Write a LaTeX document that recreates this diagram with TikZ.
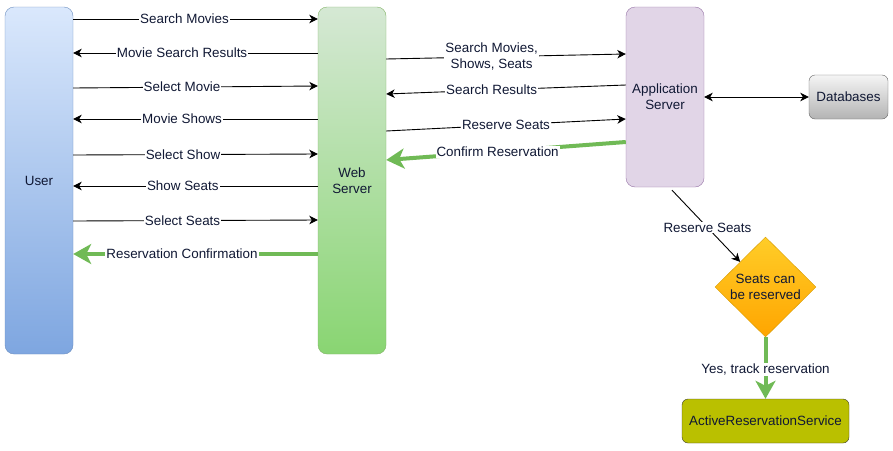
\documentclass[tikz,border=0pt]{standalone}
\usepackage{fontspec}
\setmainfont{Liberation Sans}
\usetikzlibrary{arrows.meta,shapes.geometric}

\definecolor{txt}{RGB}{16,24,52}
\definecolor{okgreen}{RGB}{112,186,86}
\definecolor{userTop}{HTML}{DAE8FC}
\definecolor{userBot}{HTML}{7EA6E0}
\definecolor{userLine}{HTML}{6C8EBF}
\definecolor{webTop}{HTML}{D5E8D4}
\definecolor{webBot}{HTML}{89D572}
\definecolor{webLine}{HTML}{82B366}
\definecolor{appFill}{HTML}{E1D5E7}
\definecolor{appLine}{HTML}{9673A6}
\definecolor{dbTop}{HTML}{F5F5F5}
\definecolor{dbBot}{HTML}{B3B3B3}
\definecolor{dbLine}{HTML}{666666}
\definecolor{decTop}{HTML}{FFCD28}
\definecolor{decBot}{HTML}{FFA500}
\definecolor{decLine}{HTML}{D79B00}
\definecolor{arsFill}{RGB}{186,192,0}
\definecolor{arsLine}{RGB}{60,60,45}

\begin{document}
\begin{tikzpicture}[x=1pt,y=-1pt,
  every node/.style={font=\fontsize{13.4}{15.8}\selectfont, text=txt},
  box/.style={draw, rounded corners=9pt, inner sep=0pt, align=center},
  lbl/.style={fill=white, inner sep=1pt, align=center},
  arr/.style={draw=black, line width=0.9pt, -{Stealth[length=8.5pt,width=8.5pt,inset=2.5pt]}},
  dbl/.style={draw=black, line width=0.9pt, {Stealth[length=8.5pt,width=8.5pt,inset=2.5pt]}-{Stealth[length=8.5pt,width=8.5pt,inset=2.5pt]}},
  garr/.style={draw=okgreen, line width=4pt, -{Stealth[length=18pt,width=20pt,inset=5pt]}},
]
\useasboundingbox (0,0) rectangle (893,450);

% components
\node[box, draw=userLine, top color=userTop, bottom color=userBot,
      minimum width=68pt, minimum height=347pt] (user) at (39,180.5) {User};
\node[box, draw=webLine, top color=webTop, bottom color=webBot,
      minimum width=68pt, minimum height=347pt] (web) at (352,180.5) {Web\\Server};
\node[box, draw=appLine, fill=appFill,
      minimum width=78pt, minimum height=180pt] (app) at (665,97) {Application\\Server};
\node[box, rounded corners=6pt, draw=dbLine, top color=dbTop, bottom color=dbBot,
      minimum width=79pt, minimum height=44pt] (db) at (848.5,97) {Databases};
\node[diamond, draw=decLine, top color=decTop, bottom color=decBot, inner sep=0pt,
      align=center, minimum width=101pt, minimum height=100pt] (dec) at (765.5,287)
      {Seats can\\be reserved};
\node[box, rounded corners=6pt, draw=arsLine, fill=arsFill,
      minimum width=167pt, minimum height=44pt] (ars) at (765.5,421) {ActiveReservationService};

% user <-> web server
\draw[arr] (user.east |- 0,19)  -- node[lbl, pos=0.455] {Search Movies} (web.west |- 0,19);
\draw[arr] (web.west |- 0,53)   -- node[lbl, pos=0.555] {Movie Search Results} (user.east |- 0,53);
\draw[arr] (user.east |- 0,88)  -- node[lbl, pos=0.445] {Select Movie} (web.west |- 0,86);
\draw[arr] (web.west |- 0,119)  -- node[lbl, pos=0.555] {Movie Shows} (user.east |- 0,119);
\draw[arr] (user.east |- 0,155) -- node[lbl, pos=0.449] {Select Show} (web.west |- 0,154);
\draw[arr] (web.west |- 0,186)  -- node[lbl, pos=0.552] {Show Seats} (user.east |- 0,186);
\draw[arr] (user.east |- 0,221) -- node[lbl, pos=0.447] {Select Seats} (web.west |- 0,220);
\draw[garr] (web.west |- 0,254) -- node[lbl, pos=0.555] {Reservation Confirmation} (user.east |- 0,254);

% web server <-> application server
\draw[arr] (web.east |- 0,59)  -- node[lbl, pos=0.44] {Search Movies,\\Shows, Seats} (app.west |- 0,54);
\draw[arr] (app.west |- 0,85)  -- node[lbl, pos=0.56] {Search Results} (web.east |- 0,94);
\draw[arr] (web.east |- 0,131) -- node[lbl, pos=0.50] {Reserve Seats} (app.west |- 0,119);
\draw[garr] (app.west |- 0,142) -- node[lbl, pos=0.535] {Confirm Reservation} (web.east |- 0,160);

% application server <-> databases
\draw[dbl] (app.east) -- (db.west);

% reservation check
\coordinate (appout) at ([xshift=7pt,yshift=-3pt]app.south);
\draw[arr] (appout) -- node[lbl, pos=0.52] {Reserve Seats} (dec.north west);
\draw[garr] (dec.south) -- node[lbl, pos=0.52] {Yes, track reservation} (ars.north);

\end{tikzpicture}
\end{document}
